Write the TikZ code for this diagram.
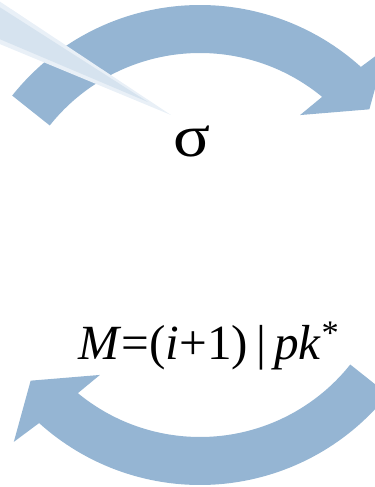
\documentclass[tikz,border=0pt]{standalone}
\usepackage{fontspec}
\setmainfont{Liberation Serif}
\definecolor{arrowblue}{RGB}{149,181,211}
\definecolor{beammid}{RGB}{214,227,239}
\definecolor{beamlight}{RGB}{233,240,247}
\begin{document}
\begin{tikzpicture}[x=0.02cm,y=0.02cm,
  arrowfill/.style={fill=arrowblue},
  lbl/.style={inner sep=0pt,anchor=base,text=black}]
\useasboundingbox (0,0) rectangle (375,487);
\clip (0,0) rectangle (375,487);
\begin{scope}[shift={(200,242)}]
  % top arrow
  \fill[arrowfill] (141.5:240) arc[start angle=141.5,end angle=47.9,radius=240]
    -- (46.6:271) -- (38.7:217) -- (52.4:164) -- (50.5:192)
    arc[start angle=50.5,end angle=141.5,radius=192] -- cycle;
  % bottom arrow
  \fill[arrowfill] (321.5:240) arc[start angle=321.5,end angle=227.9,radius=240]
    -- (226.6:271) -- (218.7:217) -- (232.4:164) -- (230.5:192)
    arc[start angle=230.5,end angle=321.5,radius=192] -- cycle;
\end{scope}
% light beam
\fill[beamlight] (-10,492) -- (171,372) -- (-10,447) -- cycle;
\fill[beammid] (-10,486) -- (148,385) -- (-10,452) -- cycle;
% labels
\node[lbl,font=\fontsize{34}{34}\selectfont,xscale=1.15] (sigma) at (192,330) {σ};
\node[lbl,font=\fontsize{28}{28}\selectfont] (formula) at (209,127)
  {\textit{M}=(\textit{i}+1)\,|\,\textit{pk}\textsuperscript{*}};
\end{tikzpicture}
\end{document}
